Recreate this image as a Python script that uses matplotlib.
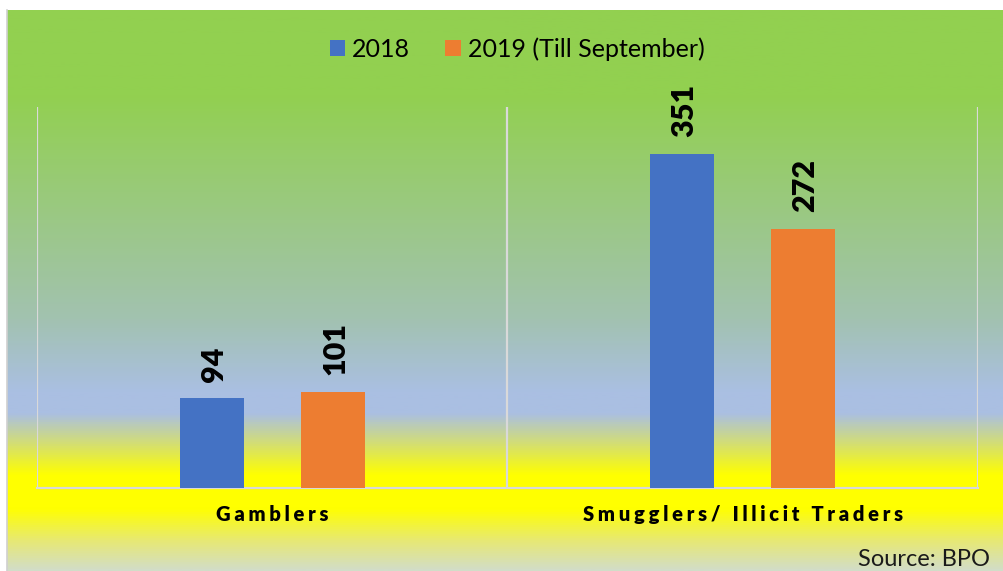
import numpy as np
import matplotlib

matplotlib.use("Agg")

import matplotlib.pyplot as plt  # noqa: E402
from matplotlib.colors import LinearSegmentedColormap  # noqa: E402
from matplotlib.patches import Patch  # noqa: E402

CATEGORIES = ["Gamblers", "Smugglers/ Illicit Traders"]
SERIES = ["2018", "2019 (Till September)"]
VALUES_2018 = [94, 351]
VALUES_2019 = [101, 272]

BLUE = "#4472C4"
ORANGE = "#ED7D31"
GRID = "#D9D9D9"

W, H = 1004, 571


def spaced(s, gap="\u2009\u200a"):
    # fake letter spacing for the category labels
    return gap.join(s)


fig = plt.figure(figsize=(W / 100, H / 100), dpi=100)
fig.patch.set_facecolor("white")

# gradient background (green -> light blue -> yellow -> pale)
bg = fig.add_axes([7 / W, 0, 1 - 7 / W, 561 / H], zorder=0)
stops = [
    (0.00, "#92D050"),
    (0.15, "#92D050"),
    (0.55, "#A2C2B0"),
    (0.68, "#AABFE2"),
    (0.72, "#AABFE2"),
    (0.83, "#FFFF00"),
    (0.89, "#FFFF00"),
    (0.95, "#E6E878"),
    (1.00, "#D2DDC8"),
]
cmap = LinearSegmentedColormap.from_list("bg", stops)
grad = np.linspace(0, 1, 512).reshape(-1, 1)
bg.imshow(grad, aspect="auto", cmap=cmap, extent=[0, 1, 0, 1], origin="upper")
bg.set_xlim(0, 1)
bg.set_ylim(0, 1)
bg.axis("off")

# thin grey frame line on the left
fig.add_artist(plt.Line2D([7 / W, 7 / W], [0, 561 / H], color="#D0D0D0", lw=1.2,
                          transform=fig.transFigure, zorder=1))

ax = fig.add_axes([37 / W, (H - 488) / H, (978 - 37) / W, (488 - 107) / H], zorder=2)
ax.patch.set_alpha(0)

x = np.arange(len(CATEGORIES))
bw = 0.136
off = 0.129
b1 = ax.bar(x - off, VALUES_2018, bw, color=BLUE, zorder=3)
b2 = ax.bar(x + off, VALUES_2019, bw, color=ORANGE, zorder=3)

for bars, vals in ((b1, VALUES_2018), (b2, VALUES_2019)):
    for r, v in zip(bars, vals):
        ax.annotate(str(v), xy=(r.get_x() + r.get_width() / 2, v),
                    xytext=(1.5, 12), textcoords="offset points",
                    rotation=90, ha="center", va="bottom",
                    fontsize=22, fontweight="heavy", family=["Lato", "DejaVu Sans"])

ax.set_xlim(-0.5, 1.5)
ax.set_ylim(0, 400)
ax.set_yticks([])
ax.set_xticks([])
ax.set_xticks([-0.5, 0.5, 1.5], minor=True)
ax.tick_params(which="both", length=0, labelbottom=False)
ax.grid(True, which="minor", axis="x", color=GRID, lw=1.6, zorder=1)
for s in ("top", "left", "right"):
    ax.spines[s].set_visible(False)
ax.spines["bottom"].set_color(GRID)
ax.spines["bottom"].set_linewidth(1.6)

for xi, cat in zip(x, CATEGORIES):
    ax.text(xi, -33 / 381, spaced(cat), transform=ax.get_xaxis_transform(),
            ha="center", va="baseline", fontsize=14.5, fontweight="heavy",
            family=["Lato", "DejaVu Sans"])

handles = [Patch(facecolor=BLUE), Patch(facecolor=ORANGE)]
fig.legend(handles, SERIES, loc="center", bbox_to_anchor=(0.515, 1 - 49 / H),
           ncol=2, frameon=False, prop={"family": "Lato", "size": 18},
           handlelength=0.62, handleheight=0.62, handletextpad=0.28,
           columnspacing=1.4)

fig.text(990 / W, 5 / H, "Source: BPO", ha="right", va="baseline",
         fontsize=17, family="Lato", color="#1a1a1a")

fig.savefig("out.png", dpi=100)
